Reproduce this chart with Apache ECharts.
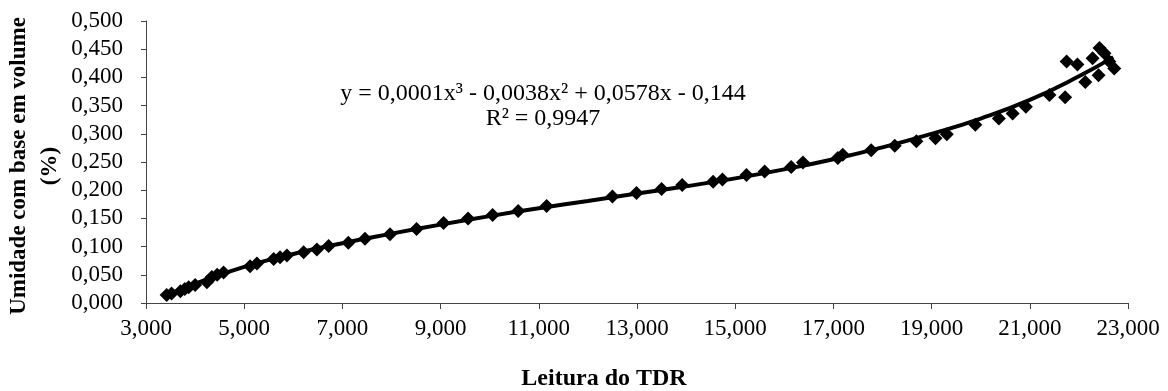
<!DOCTYPE html>
<html>
<head>
<meta charset="utf-8">
<script src="https://cdn.jsdelivr.net/npm/echarts@6/dist/echarts.min.js"></script>
<style>
html,body{margin:0;padding:0;background:#fff;}
#chart{width:1168px;height:391px;}
</style>
</head>
<body>
<div id="chart"></div>
<script>
// Measured points (Leitura do TDR vs Umidade)
const tdrReadings = [3420,3520,3700,3790,3870,4000,4240,4340,4450,4580,5120,5260,5600,5730,5870,6210,6480,6720,7120,7460,7970,8510,9060,9560,10060,10580,11160,12500,12990,13500,13920,14550,14740,15230,15600,16140,16380,17090,17190,17770,18250,18690,19080,19310,19890,20370,20650,20920,21400,21720,21750,21970,22130,22400,22280,22420,22520,22620,22720];
const moisture = [0.014,0.017,0.021,0.025,0.028,0.032,0.037,0.046,0.050,0.054,0.065,0.070,0.078,0.081,0.084,0.090,0.095,0.101,0.107,0.114,0.122,0.131,0.142,0.150,0.156,0.163,0.172,0.189,0.195,0.202,0.209,0.215,0.219,0.227,0.233,0.241,0.249,0.257,0.263,0.271,0.279,0.287,0.292,0.299,0.316,0.327,0.336,0.348,0.369,0.365,0.428,0.423,0.392,0.404,0.434,0.452,0.443,0.428,0.416];
// Trend line
const trendX = [3400,4000,5000,6000,7000,8000,9000,10000,11000,12000,13000,14000,15000,16000,17000,18000,19000,20000,21000,22000,22700];
const trendY = [0.013,0.034,0.064,0.087,0.106,0.123,0.139,0.154,0.168,0.181,0.194,0.207,0.221,0.237,0.255,0.276,0.300,0.327,0.360,0.402,0.436];
const equationText = 'y = 0,0001x³ - 0,0038x² + 0,0578x - 0,144';
const r2Text = 'R² = 0,9947';
const xTitle = 'Leitura do TDR';
const yTitle = 'Umidade com base em volume\n(%)';

const FONT = "'Liberation Serif','Times New Roman',serif";
const chart = echarts.init(document.getElementById('chart'), null, {renderer:'canvas'});
const scatterData = tdrReadings.map((x,i)=>[x, moisture[i]]);
const trendData = trendX.map((x,i)=>[x, trendY[i]]);
const axisColor = '#444';

chart.setOption({
  animation:false,
  backgroundColor:'#fff',
  grid:{left:146, right:40, top:21, bottom:88, containLabel:false},
  xAxis:{
    type:'value', min:3000, max:23000, interval:2000,
    axisLine:{show:true, lineStyle:{color:axisColor, width:1}},
    axisTick:{show:true, inside:false, length:6, lineStyle:{color:axisColor}},
    splitLine:{show:false},
    axisLabel:{color:'#000', fontFamily:FONT, fontSize:23, margin:14,
      formatter:v=>String(v).replace(/\B(?=(\d{3})+(?!\d))/g, ',')}
  },
  yAxis:{
    type:'value', min:0, max:0.5, interval:0.05,
    axisLine:{show:true, lineStyle:{color:axisColor, width:1}},
    axisTick:{show:true, inside:false, length:5, lineStyle:{color:axisColor}},
    splitLine:{show:false},
    axisLabel:{color:'#000', fontFamily:FONT, fontSize:23, margin:23,
      formatter:v=>v.toFixed(3).replace('.', ',')}
  },
  graphic:[
    {type:'text', x:543, y:94, style:{text:equationText, font:'24px '+FONT, fill:'#000', align:'center', verticalAlign:'middle'}},
    {type:'text', x:543, y:119, style:{text:r2Text, font:'24px '+FONT, fill:'#000', align:'center', verticalAlign:'middle'}},
    {type:'text', x:604, y:379, style:{text:xTitle, font:'bold 24px '+FONT, fill:'#000', align:'center', verticalAlign:'middle'}},
    {type:'text', x:35, y:166, rotation:Math.PI/2, style:{text:yTitle, font:'bold 23px '+FONT, fill:'#000', align:'center', verticalAlign:'middle', lineHeight:31}}
  ],
  series:[
    {type:'scatter', data:scatterData, symbol:'diamond', symbolSize:14,
      itemStyle:{color:'#000', opacity:1}, z:3},
    {type:'line', data:trendData, smooth:true, showSymbol:false, symbol:'none',
      lineStyle:{color:'#000', width:4}, z:2}
  ]
});
</script>
</body>
</html>
